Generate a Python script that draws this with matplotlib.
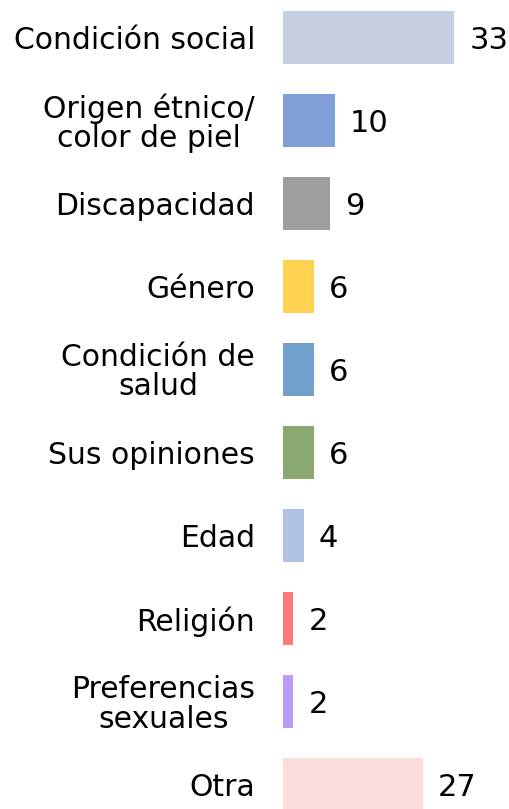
import matplotlib
matplotlib.use("Agg")
import matplotlib.pyplot as plt

categorias = ["Condición social", "Origen étnico/\ncolor de piel", "Discapacidad", "Género",
              "Condición de\nsalud", "Sus opiniones", "Edad", "Religión",
              "Preferencias\nsexuales", "Otra"]
valores = [33, 10, 9, 6, 6, 6, 4, 2, 2, 27]
colores = ["#c5cfdf", "#809fd6", "#a09e9c", "#ffd351", "#71a0cd", "#8aa872",
           "#b1c3e5", "#ff7b7b", "#bd9bf9", "#fddcdc"]

plt.rcParams['font.family'] = ['DejaVu Sans']

fig = plt.figure(figsize=(5.09, 8.09), dpi=100)
ax = fig.add_axes([283 / 509, 0, 1 - 283 / 509, 1])

y = list(range(len(valores)))
bars = ax.barh(y, valores, height=0.64, color=colores)

ax.set_xlim(0, 226 / 5.18)
ax.set_ylim((809 - 37.5) / 83, -37.5 / 83)

ax.set_yticks(y)
ax.set_yticklabels(categorias, fontsize=21.5, ha="right", multialignment="center",
                   linespacing=1.0)
ax.tick_params(axis="y", length=0, pad=20)
ax.set_xticks([])
for s in ax.spines.values():
    s.set_visible(False)

for b, v in zip(bars, valores):
    ax.annotate(str(v), (b.get_width(), b.get_y() + b.get_height() / 2),
                xytext=(11, 0), textcoords="offset points",
                va="center_baseline", ha="left", fontsize=22)

fig.savefig("out.png", dpi=100)
